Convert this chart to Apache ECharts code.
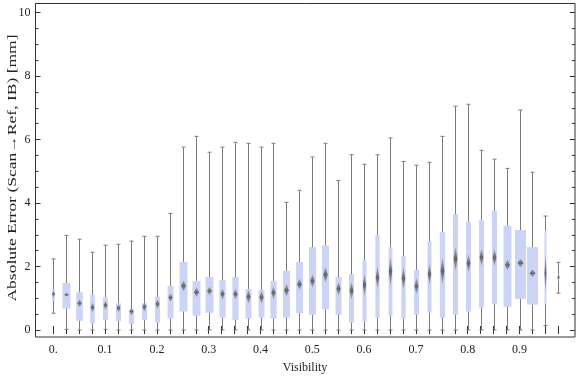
<!DOCTYPE html>
<html><head><meta charset="utf-8">
<script src="https://cdn.jsdelivr.net/npm/echarts@6/dist/echarts.min.js"></script>
<style>html,body{margin:0;padding:0;background:#fff}#c{width:576px;height:377px}</style>
</head><body><div id="c"></div>
<script>
const visibility = [0,0.025,0.05,0.075,0.1,0.125,0.15,0.175,0.2,0.225,0.25,0.275,0.3,0.325,0.35,0.375,0.4,0.425,0.45,0.475,0.5,0.525,0.55,0.575,0.6,0.625,0.65,0.675,0.7,0.725,0.75,0.775,0.8,0.825,0.85,0.875,0.9,0.925,0.95,0.975];
const xTickLabels = ['0.','0.1','0.2','0.3','0.4','0.5','0.6','0.7','0.8','0.9'];
const yTickValues = [0,2,4,6,8,10];
const yTitle = 'Absolute Error (Scan\u2192Ref, IB) [mm]';
const xTitle = 'Visibility';
const whiskerLow = [0.53,0.02,0,0,0.02,0,0,0,0,0,0,0,0,0,0,0,0,0,0,0,0,0,0,0,0,0,0,0,0,0,0,0,0,0,0,0,0,0,0.14,1.16];
const q1 = [0.92,0.67,0.29,0.21,0.31,0.28,0.20,0.31,0.23,0.36,0.58,0.45,0.54,0.39,0.32,0.36,0.39,0.36,0.39,0.53,0.48,0.65,0.48,0.23,0.26,0.39,0.45,0.36,0.48,0.55,0.39,0.48,0.58,0.71,0.82,0.73,0.98,0.80,0.82,1.55];
const median = [1.13,1.11,0.84,0.71,0.78,0.69,0.58,0.73,0.82,1.02,1.39,1.19,1.23,1.13,1.13,1.05,1.03,1.17,1.25,1.44,1.54,1.74,1.30,1.24,1.42,1.65,1.84,1.63,1.38,1.76,1.86,2.24,2.10,2.29,2.28,2.05,2.11,1.79,1.79,1.66];
const q3 = [1.28,1.48,1.19,1.12,1.03,0.84,0.65,0.84,1.04,1.39,2.14,1.54,1.67,1.57,1.67,1.29,1.26,1.54,1.86,2.14,2.61,2.67,1.67,1.76,2.20,2.99,2.61,2.33,1.89,2.80,3.09,3.65,3.40,3.46,3.75,3.28,3.15,2.61,3.12,1.76];
const whiskerHigh = [2.24,2.98,2.86,2.45,2.67,2.70,2.80,2.95,2.95,3.67,5.76,6.10,5.60,5.76,5.91,5.88,5.76,5.88,4.02,4.40,5.45,5.88,4.71,5.52,5.22,5.52,6.05,5.31,5.19,5.28,6.10,7.05,7.11,5.66,5.38,5.09,6.93,4.97,3.59,2.13];
const boxWeight = [0.3,0.8,0.67,0.47,0.5,0.5,0.53,0.5,0.5,0.6,0.8,0.8,0.8,0.63,0.63,0.6,0.6,0.63,0.7,0.7,0.7,0.7,0.6,0.5,0.4,0.43,0.4,0.43,0.5,0.4,0.53,0.5,0.5,0.5,0.5,0.8,1.1,1.1,0.2,0.2];
const medianCI = [0.22,0.13,0.25,0.31,0.28,0.28,0.25,0.31,0.31,0.28,0.35,0.31,0.28,0.35,0.35,0.44,0.41,0.41,0.41,0.38,0.44,0.50,0.44,0.57,0.72,0.72,0.94,0.72,0.54,0.69,0.88,0.79,0.60,0.57,0.57,0.35,0.28,0.25,1.26,0.22];

const data = visibility.map((v,i)=>[i, whiskerLow[i], q1[i], median[i], q3[i], whiskerHigh[i], boxWeight[i], medianCI[i]]);

const FONT = 'Liberation Serif';
const WCOL = '#7b7b7b';
const BOXCOL = '#ccd4f5';

function renderItem(params, api){
  const i = api.value(0);
  const pLow = api.coord([i, api.value(1)]);
  const pQ1 = api.coord([i, api.value(2)]);
  const pMed = api.coord([i, api.value(3)]);
  const pQ3 = api.coord([i, api.value(4)]);
  const pHigh = api.coord([i, api.value(5)]);
  const w = api.value(6) * 10;
  const ciPx = Math.abs(api.size([0, api.value(7)])[1]);
  const x = Math.round(pMed[0]) + 0.5;
  const dw = Math.min(w, 2 + w * 0.35);
  const capW = 2;
  const ls = {stroke: WCOL, lineWidth: 1};
  return {type:'group', children:[
    {type:'line', shape:{x1:x, y1:pLow[1], x2:x, y2:pHigh[1]}, style:ls},
    {type:'line', shape:{x1:x-capW, y1:pLow[1], x2:x+capW, y2:pLow[1]}, style:ls},
    {type:'line', shape:{x1:x-capW, y1:pHigh[1], x2:x+capW, y2:pHigh[1]}, style:ls},
    {type:'rect', shape:{x:x-w/2, y:pQ3[1], width:w, height:pQ1[1]-pQ3[1]}, style:{fill:BOXCOL}},
    {type:'polygon', shape:{points:[[x, pMed[1]-ciPx/2],[x+dw/2, pMed[1]],[x, pMed[1]+ciPx/2],[x-dw/2, pMed[1]]]},
      style:{fill:{type:'linear', x:0, y:0, x2:0, y2:1, colorStops:[
        {offset:0, color:'rgba(110,110,110,0.35)'},
        {offset:0.5, color:'rgba(100,100,100,1)'},
        {offset:1, color:'rgba(110,110,110,0.35)'}]}}}
  ]};
}

const chart = echarts.init(document.getElementById('c'), null, {renderer:'canvas'});
chart.setOption({
  animation:false,
  grid:[
    {left:53.3, top:12.5, width:505.05, height:317.5, show:false, containLabel:false, outerBoundsMode:'none'},
    {left:35.5, top:3.5, width:539.5, height:333.5, show:true, borderColor:'#333', borderWidth:1, backgroundColor:'transparent', containLabel:false, outerBoundsMode:'none'}
  ],
  graphic:[
    {type:'text', x:12.5, y:168, rotation:Math.PI/2, scaleX:1.46, scaleY:1.0, silent:true,
     style:{text:yTitle, font:'12px "Liberation Serif"', fill:'#222', align:'center', verticalAlign:'middle'}},
    {type:'text', x:305, y:368, silent:true,
     style:{text:xTitle, font:'12px "Liberation Serif"', fill:'#222', align:'center', verticalAlign:'middle'}}
  ],
  xAxis:[
    {gridIndex:0, type:'category', data:visibility, boundaryGap:false, position:'bottom', offset:7,
     axisLine:{show:false}, axisTick:{show:true, inside:true, length:4, interval:0, lineStyle:{color:'#333'}},
     axisLabel:{interval:(idx)=>idx%4===0, formatter:(v,idx)=>xTickLabels[idx/4]||'', fontFamily:FONT, fontSize:12, color:'#222', margin:7},
     splitLine:{show:false}},
    {gridIndex:0, type:'category', data:visibility, boundaryGap:false, position:'top', offset:9,
     axisLine:{show:false}, axisTick:{show:true, inside:true, length:4, interval:0, lineStyle:{color:'#333'}},
     axisLabel:{show:false}, splitLine:{show:false}},
    {gridIndex:1, type:'value', min:0, max:1, show:false}
  ],
  yAxis:[
    {gridIndex:0, type:'value', min:0, max:10, interval:2, position:'left', offset:17.8,
     axisLine:{show:false}, axisTick:{show:true, inside:true, length:5, lineStyle:{color:'#333'}},
     minorTick:{show:true, splitNumber:4, length:3, lineStyle:{color:'#333'}},
     axisLabel:{formatter:(v)=>yTickValues.includes(v)?String(v):'', fontFamily:FONT, fontSize:12, color:'#222', margin:5},
     splitLine:{show:false}},
    {gridIndex:0, type:'value', min:0, max:10, interval:2, position:'right', offset:16.65,
     axisLine:{show:false}, axisTick:{show:true, inside:true, length:5, lineStyle:{color:'#333'}},
     minorTick:{show:true, splitNumber:4, length:3, lineStyle:{color:'#333'}},
     axisLabel:{show:false}, splitLine:{show:false}},
    {gridIndex:1, type:'value', min:0, max:1, show:false}
  ],
  series:[{
    type:'custom', xAxisIndex:0, yAxisIndex:0, renderItem:renderItem, data:data,
    encode:{x:0, y:[1,5]}, clip:false
  }]
});
</script></body></html>
